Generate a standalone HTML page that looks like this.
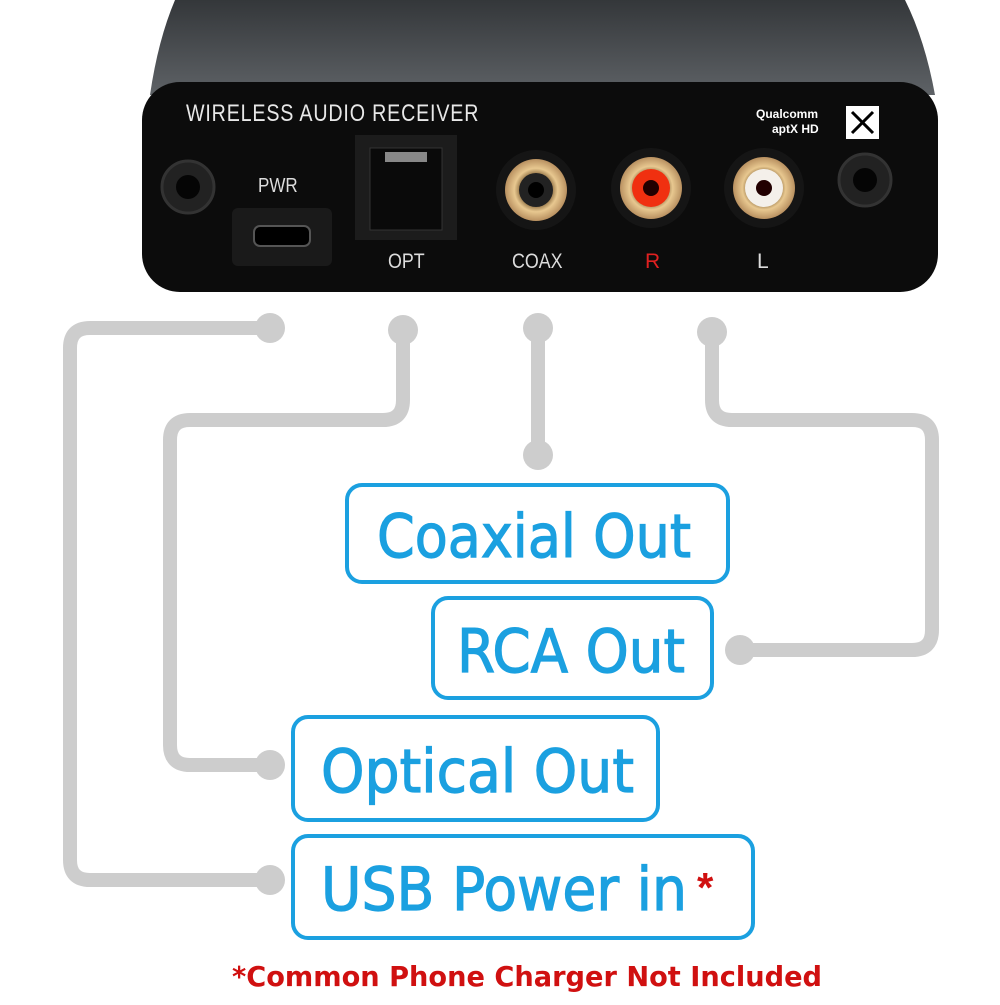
<!DOCTYPE html>
<html><head><style>
body{margin:0;background:#fff;width:1000px;height:1000px;overflow:hidden}
</style></head><body>
<svg width="1000" height="1000" viewBox="0 0 1000 1000" xmlns="http://www.w3.org/2000/svg" font-family="Liberation Sans, sans-serif">
<defs>
<linearGradient id="top" x1="0" y1="0" x2="0" y2="1"><stop offset="0" stop-color="#34373a"/><stop offset="1" stop-color="#5e6266"/></linearGradient>
<radialGradient id="gold"><stop offset="0.45" stop-color="#7a5a30"/><stop offset="0.7" stop-color="#e8c890"/><stop offset="1" stop-color="#b89060"/></radialGradient>
</defs>
<path d="M175 0 H905 Q925 40 935 95 H150 Q158 40 175 0Z" fill="url(#top)"/>
<rect x="142" y="82" width="796" height="210" rx="38" fill="#0c0c0c"/>
<text x="186" y="121" fill="#e8e8e8" font-size="24" transform="translate(186 0) scale(0.82 1) translate(-186 0)" letter-spacing="1">WIRELESS AUDIO RECEIVER</text>
<text x="756" y="118" fill="#fff" font-size="12" font-weight="bold">Qualcomm</text>
<text x="772" y="133" fill="#fff" font-size="12" font-weight="bold">aptX HD</text>
<rect x="846" y="106" width="33" height="33" fill="#fff"/>
<path d="M852 112 L873 133 M873 112 L852 133" stroke="#000" stroke-width="3"/>
<circle cx="188" cy="187" r="26" fill="#222" stroke="#333" stroke-width="3"/><circle cx="188" cy="187" r="12" fill="#050505"/>
<circle cx="865" cy="180" r="26" fill="#222" stroke="#333" stroke-width="3"/><circle cx="865" cy="180" r="12" fill="#050505"/>
<text x="258" y="192" fill="#ddd" font-size="20" transform="translate(258 0) scale(0.85 1) translate(-258 0)">PWR</text>
<rect x="232" y="208" width="100" height="58" rx="6" fill="#1a1a1a"/>
<rect x="254" y="226" width="56" height="20" rx="6" fill="#000" stroke="#555" stroke-width="2"/>
<rect x="355" y="135" width="102" height="105" fill="#1c1c1c"/>
<rect x="370" y="148" width="72" height="82" fill="#0a0a0a" stroke="#333"/>
<rect x="385" y="152" width="42" height="10" fill="#888"/>
<text x="388" y="268" fill="#ddd" font-size="21" transform="translate(388 0) scale(0.85 1) translate(-388 0)">OPT</text>
<circle cx="536" cy="190" r="40" fill="#151515"/><circle cx="536" cy="190" r="31" fill="url(#gold)"/><circle cx="536" cy="190" r="17" fill="#222"/><circle cx="536" cy="190" r="8" fill="#000"/>
<text x="512" y="268" fill="#ddd" font-size="21" transform="translate(512 0) scale(0.85 1) translate(-512 0)">COAX</text>
<circle cx="651" cy="188" r="40" fill="#151515"/><circle cx="651" cy="188" r="31" fill="url(#gold)"/><circle cx="651" cy="188" r="19" fill="#f03010"/><circle cx="651" cy="188" r="8" fill="#200"/>
<text x="645" y="268" fill="#e02020" font-size="21">R</text>
<circle cx="764" cy="188" r="40" fill="#151515"/><circle cx="764" cy="188" r="31" fill="url(#gold)"/><circle cx="764" cy="188" r="19" fill="#f4f0ea"/><circle cx="764" cy="188" r="8" fill="#200"/>
<text x="757" y="268" fill="#ddd" font-size="21">L</text>

<g fill="none" stroke="#cdcdcd" stroke-width="14" stroke-linejoin="round">
<path d="M270 328 H90 Q70 328 70 348 V860 Q70 880 90 880 H270"/>
<path d="M403 330 V400 Q403 420 383 420 H190 Q170 420 170 440 V745 Q170 765 190 765 H270"/>
<path d="M538 328 V455"/>
<path d="M712 332 V400 Q712 420 732 420 H912 Q932 420 932 440 V630 Q932 650 912 650 H740"/>
</g>
<g fill="#cdcdcd">
<circle cx="270" cy="328" r="15"/><circle cx="403" cy="330" r="15"/><circle cx="538" cy="328" r="15"/><circle cx="538" cy="455" r="15"/><circle cx="712" cy="332" r="15"/><circle cx="740" cy="650" r="15"/><circle cx="270" cy="765" r="15"/><circle cx="270" cy="880" r="15"/>
</g>
<g fill="#fff" stroke="#1ba0e0" stroke-width="4">
<rect x="347" y="485" width="381" height="97" rx="15"/>
<rect x="433" y="598" width="279" height="100" rx="15"/>
<rect x="293" y="717" width="365" height="103" rx="15"/>
<rect x="293" y="836" width="460" height="102" rx="15"/>
</g>
<g fill="#1ba0e0" font-size="60" font-family="DejaVu Sans, sans-serif" stroke="#1ba0e0" stroke-width="1.2">
<text x="377" y="557" textLength="314" lengthAdjust="spacingAndGlyphs">Coaxial Out</text>
<text x="457" y="672" textLength="228" lengthAdjust="spacingAndGlyphs">RCA Out</text>
<text x="321" y="792" textLength="313" lengthAdjust="spacingAndGlyphs">Optical Out</text>
<text x="321" y="910" textLength="366" lengthAdjust="spacingAndGlyphs">USB Power in</text>
</g>
<text x="697" y="902" fill="#d01010" font-size="42" font-weight="bold">*</text>
<text x="232" y="986" fill="#d01010" font-size="28" font-weight="bold" textLength="590" lengthAdjust="spacingAndGlyphs" font-family="DejaVu Sans, sans-serif">*Common Phone Charger Not Included</text>
</svg>
</body></html>
